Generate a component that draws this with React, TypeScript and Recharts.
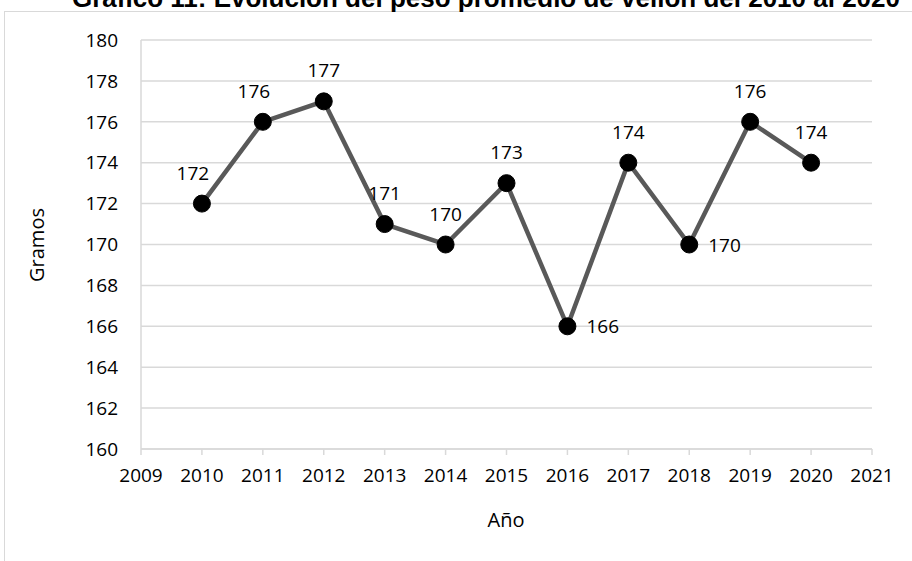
import { LineChart, Line, XAxis, YAxis, CartesianGrid } from "recharts";

const years = [2010, 2011, 2012, 2013, 2014, 2015, 2016, 2017, 2018, 2019, 2020];
const weights = [172, 176, 177, 171, 170, 173, 166, 174, 170, 176, 174];
// where each data label sits relative to its point
const labelSide = ["topleft", "topleft", "top", "top", "top", "top", "right", "top", "right", "top", "top"];
const xTicks = [2009, 2010, 2011, 2012, 2013, 2014, 2015, 2016, 2017, 2018, 2019, 2020, 2021];
const yTicks = [160, 162, 164, 166, 168, 170, 172, 174, 176, 178, 180];

const data = years.map((y, i) => ({ year: y, weight: weights[i] }));

const FONT = "'Open Sans', 'Noto Sans', sans-serif";

function PointLabel(props: any) {
  const { x, y, value, index } = props;
  const side = labelSide[index];
  if (side === "right") {
    return (
      <text x={x + 19} y={y + 7} fontSize={19} fontFamily={FONT} fill="#000">
        {value}
      </text>
    );
  }
  const dx = side === "topleft" ? -9 : 0;
  return (
    <text x={x + dx} y={y - 24} fontSize={19} fontFamily={FONT} fill="#000" textAnchor="middle">
      {value}
    </text>
  );
}

export default function App() {
  return (
    <div style={{ position: "absolute", left: 0, top: 0, width: 912, height: 561, overflow: "hidden", background: "#fff" }}>
      <div
        style={{
          position: "absolute",
          left: 4,
          top: 11,
          width: 930,
          height: 600,
          border: "1px solid #d9d9d9",
          boxSizing: "border-box",
        }}
      />
      <div
        style={{
          position: "absolute",
          left: 0,
          width: 972,
          top: -17,
          textAlign: "center",
          fontFamily: "'Liberation Sans', Arial, sans-serif",
          fontWeight: "bold",
          fontSize: 26,
          lineHeight: "30px",
          whiteSpace: "nowrap",
        }}
      >
        Gráfico 11: Evolución del peso promedio de vellón del 2010 al 2020
      </div>
      <div
        style={{
          position: "absolute",
          left: 36,
          top: 245,
          transform: "translate(-50%, -50%) rotate(-90deg)",
          fontFamily: FONT,
          fontSize: 20,
          whiteSpace: "nowrap",
        }}
      >
        Gramos
      </div>
      <div
        style={{
          position: "absolute",
          left: 506,
          top: 519,
          transform: "translate(-50%, -50%)",
          fontFamily: FONT,
          fontSize: 20,
          whiteSpace: "nowrap",
        }}
      >
        Año
      </div>
      <div style={{ position: "absolute", left: 0, top: 0 }}>
        <LineChart width={912} height={561} data={data} margin={{ top: 40, right: 40, left: 0, bottom: 52 }}>
          <CartesianGrid vertical={false} stroke="#d9d9d9" strokeWidth={1.5} />
          <XAxis
            dataKey="year"
            type="number"
            domain={[2009, 2021]}
            ticks={xTicks}
            interval={0}
            height={60}
            stroke="#d9d9d9"
            strokeWidth={1.5}
            tickSize={6}
            tickMargin={14}
            tick={{ fill: "#000", fontSize: 19, fontFamily: FONT }}
          />
          <YAxis
            type="number"
            domain={[160, 180]}
            ticks={yTicks}
            interval={0}
            width={141}
            stroke="#d9d9d9"
            strokeWidth={1.5}
            tickLine={false}
            tickSize={0}
            tickMargin={23}
            tick={{ fill: "#000", fontSize: 19, fontFamily: FONT }}
          />
          <Line
            type="linear"
            dataKey="weight"
            stroke="#595959"
            strokeWidth={4.5}
            dot={{ r: 8.5, fill: "#000", stroke: "#000", strokeWidth: 1 }}
            activeDot={false}
            label={<PointLabel />}
            isAnimationActive={false}
          />
        </LineChart>
      </div>
    </div>
  );
}
